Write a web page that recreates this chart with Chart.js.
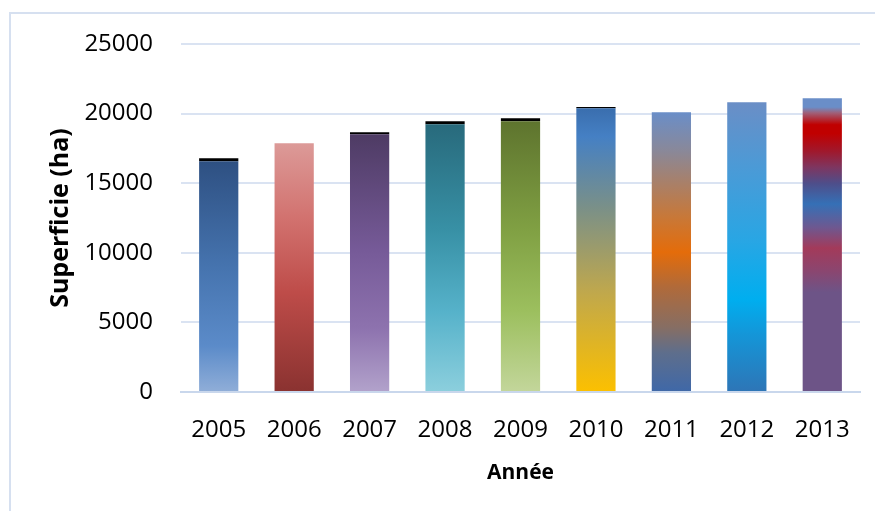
<!DOCTYPE html>
<html>
<head>
<meta charset="utf-8">
<script src="https://cdn.jsdelivr.net/npm/chart.js@4"></script>
<style>
  html, body { margin: 0; padding: 0; background: #ffffff; }
  #wrap { width: 875px; height: 511px; position: relative; }
</style>
</head>
<body>
<div id="wrap"><canvas id="c" width="875" height="511"></canvas></div>
<script>
const years = ['2005','2006','2007','2008','2009','2010','2011','2012','2013'];
const surface = [16580, 17870, 18510, 19230, 19450, 20380, 20090, 20810, 21100];
const topCap = [215, 0, 145, 215, 215, 95, 0, 0, 0];
const yTicks = [0, 5000, 10000, 15000, 20000, 25000];

// colour stops (fraction from bar top to bar bottom)
const barGradients = [
  [[0,'#2E5082'],[0.45,'#4573AE'],[0.8,'#5B8BC9'],[1,'#90AED8']],
  [[0,'#DC9A98'],[0.3,'#D2726F'],[0.6,'#BE4C49'],[1,'#8A3230']],
  [[0,'#4E3B64'],[0.45,'#765A98'],[0.75,'#8D72AE'],[1,'#B2A2CB']],
  [[0,'#286A7C'],[0.4,'#3891A6'],[0.7,'#56B2CA'],[1,'#8CCFDD']],
  [[0,'#5E742E'],[0.4,'#80A043'],[0.7,'#9CBF5E'],[1,'#C3D69B']],
  [[0,'#3A6EAE'],[0.1,'#4580C4'],[0.35,'#7A9088'],[0.65,'#C0A84C'],[1,'#FCC000']],
  [[0,'#6A8EC8'],[0.14,'#8A8898'],[0.25,'#A8806A'],[0.375,'#C87838'],[0.5,'#E46C0A'],[0.625,'#B06A3A'],[0.77,'#866E64'],[0.86,'#5E6E8C'],[1,'#3F68A8']],
  [[0,'#6A8EC6'],[0.22,'#4C9AD6'],[0.48,'#28A6E4'],[0.68,'#00AEEF'],[0.8,'#1496D8'],[1,'#2E75B6']],
  [[0,'#6A8EC8'],[0.03,'#6A8EC8'],[0.05,'#A06078'],[0.09,'#C00000'],[0.12,'#C00000'],[0.18,'#A0182C'],[0.235,'#7E3660'],[0.29,'#4E4E8A'],[0.36,'#3570B6'],[0.44,'#6E5890'],[0.51,'#A33A5A'],[0.59,'#8A4670'],[0.66,'#6D5487'],[1,'#6D5487']]
];

function barFill(ctx) {
  const chart = ctx.chart;
  const stops = barGradients[ctx.dataIndex];
  if (!chart.chartArea || !chart.scales.y) return stops[0][1];
  const yScale = chart.scales.y;
  const yTop = yScale.getPixelForValue(surface[ctx.dataIndex]);
  const yBot = yScale.getPixelForValue(0);
  const g = chart.ctx.createLinearGradient(0, yTop, 0, yBot);
  stops.forEach(s => g.addColorStop(s[0], s[1]));
  return g;
}

const framePlugin = {
  id: 'frame',
  beforeDraw(chart) {
    const c = chart.ctx;
    c.save();
    c.fillStyle = '#ffffff';
    c.fillRect(0, 0, chart.width, chart.height);
    c.strokeStyle = '#D6E0F0';
    c.lineWidth = 2;
    c.strokeRect(10, 13, 900, 540);
    c.restore();
  }
};

new Chart(document.getElementById('c'), {
  type: 'bar',
  data: {
    labels: years,
    datasets: [
      {
        label: 'Superficie',
        data: surface,
        backgroundColor: barFill,
        borderWidth: 0,
        barPercentage: 0.52,
        categoryPercentage: 1
      },
      {
        label: 'cap',
        data: topCap,
        backgroundColor: '#000000',
        borderWidth: 0,
        barPercentage: 0.52,
        categoryPercentage: 1
      }
    ]
  },
  plugins: [framePlugin],
  options: {
    responsive: false,
    animation: false,
    devicePixelRatio: 1,
    layout: { padding: { top: 44, right: 15, left: 10, bottom: 0 } },
    plugins: {
      legend: { display: false },
      tooltip: { enabled: false }
    },
    scales: {
      x: {
        stacked: true,
        grid: { display: false, drawTicks: false },
        border: { display: true, color: '#C9D7EC', width: 2 },
        ticks: {
          color: '#000000',
          font: { family: 'Open Sans', size: 24 },
          padding: 24,
          maxRotation: 0
        },
        title: {
          display: true,
          text: 'Année',
          color: '#000000',
          font: { family: 'Open Sans', size: 21, weight: 'bold' },
          padding: { top: 0, bottom: 25 }
        },
        afterFit(scale) { scale.height = 119; }
      },
      y: {
        stacked: true,
        min: 0,
        max: 25000,
        afterBuildTicks(scale) { scale.ticks = yTicks.map(v => ({ value: v })); },
        grid: { color: '#DAE3F2', lineWidth: 2, drawTicks: false },
        border: { display: false },
        ticks: {
          color: '#000000',
          font: { family: 'Open Sans', size: 24 },
          padding: 28,
          callback: (v) => String(v)
        },
        title: {
          display: true,
          text: 'Superficie (ha)',
          color: '#000000',
          font: { family: 'Open Sans', size: 25, weight: 'bold' },
          padding: { top: 36, bottom: 0 }
        },
        afterFit(scale) { scale.width = 171; }
      }
    }
  }
});
</script>
</body>
</html>
